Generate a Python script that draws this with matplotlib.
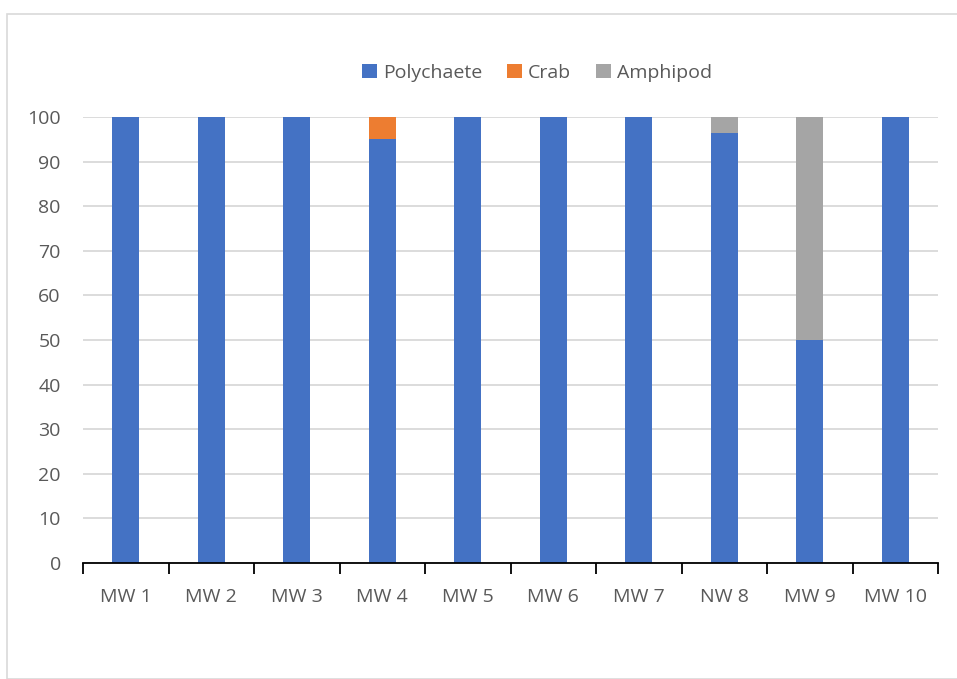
import matplotlib
matplotlib.use("Agg")
import matplotlib.pyplot as plt
from matplotlib.patches import Rectangle
import numpy as np

plt.rcParams["font.family"] = ["Open Sans", "DejaVu Sans"]

# ── Data ──────────────────────────────────────────────────────────────────────
sites = ["MW 1", "MW 2", "MW 3", "MW 4", "MW 5", "MW 6", "MW 7", "NW 8", "MW 9", "MW 10"]
polychaete = [100, 100, 100, 95, 100, 100, 100, 96.4, 50, 100]
crab = [0, 0, 0, 5, 0, 0, 0, 0, 0, 0]
amphipod = [0, 0, 0, 0, 0, 0, 0, 3.6, 50, 0]

C_POLY = "#4472C4"
C_CRAB = "#ED7D31"
C_AMPH = "#A5A5A5"
C_TEXT = "#595959"
C_GRID = "#D9D9D9"

W, H = 957, 679
fig = plt.figure(figsize=(W / 100, H / 100), dpi=100)
fig.patch.set_facecolor("white")

# chart frame (light grey border, cut at right/bottom)
fig.patches.append(Rectangle((7 / W, 0), 1.2, 1 - 14 / H, transform=fig.transFigure,
                             facecolor="none", edgecolor="#D9D9D9", lw=1.2))

ax = fig.add_axes([83 / W, 1 - 563 / H, (938 - 83) / W, (563 - 117) / H])
x = np.arange(len(sites))
bw = 0.32
ax.bar(x, polychaete, bw, color=C_POLY, label="Polychaete", zorder=3)
ax.bar(x, crab, bw, bottom=polychaete, color=C_CRAB, label="Crab", zorder=3)
bottom2 = np.array(polychaete) + np.array(crab)
ax.bar(x, amphipod, bw, bottom=bottom2, color=C_AMPH, label="Amphipod", zorder=3)

ax.set_xlim(-0.5, len(sites) - 0.5)
ax.set_ylim(0, 100)
ax.set_yticks(range(0, 101, 10))
ax.yaxis.grid(True, color=C_GRID, lw=1.3, zorder=0)
ax.set_axisbelow(True)
for s in ["top", "right", "left"]:
    ax.spines[s].set_visible(False)
ax.spines["bottom"].set_color("black")
ax.spines["bottom"].set_linewidth(1.3)
ax.spines["bottom"].set_zorder(4)

ax.tick_params(axis="y", length=0, labelsize=14, labelcolor=C_TEXT, pad=16)
ax.set_xticks(x)
ax.set_xticklabels(sites)
ax.tick_params(axis="x", length=0, labelsize=14, labelcolor=C_TEXT, pad=18)
ax.set_xticks(np.arange(-0.5, len(sites)), minor=True)
ax.tick_params(axis="x", which="minor", length=8, width=1.3, color="black", direction="out")

ax.legend(loc="lower center", bbox_to_anchor=(0.531, 1.04), ncol=3, frameon=False,
          fontsize=14, labelcolor=C_TEXT, handlelength=0.75, handleheight=0.75,
          handletextpad=0.3, columnspacing=1.3)

fig.savefig("out.png", dpi=100, facecolor="white")
